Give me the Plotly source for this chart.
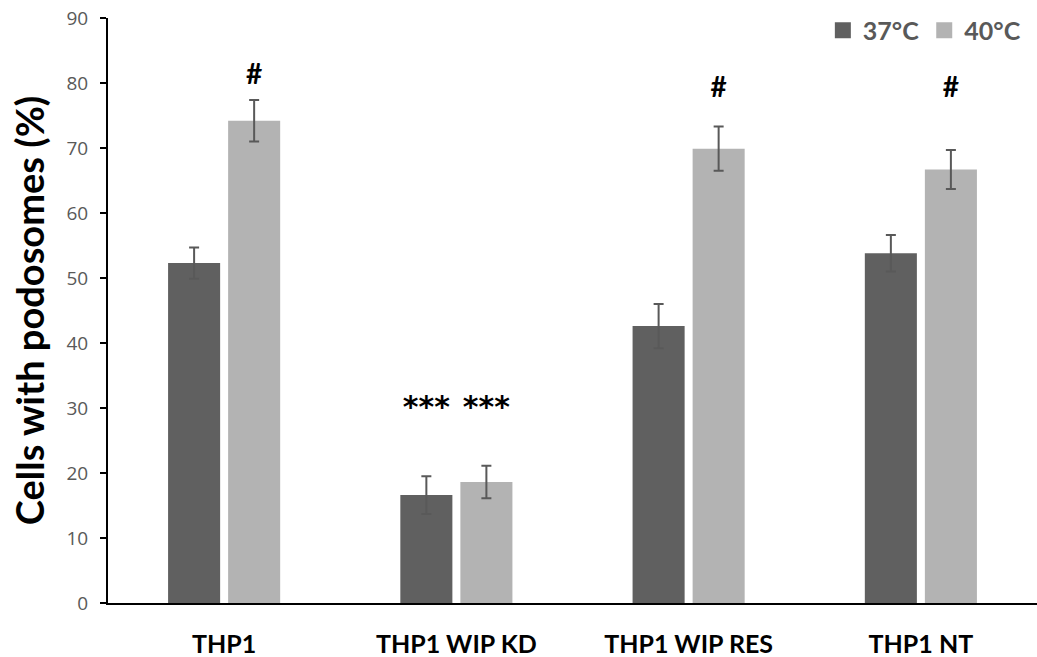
import plotly.graph_objects as go

categories = ["THP1", "THP1 WIP KD", "THP1 WIP RES", "THP1 NT"]
vals_37 = [52.3, 16.6, 42.6, 53.8]
err_37 = [2.4, 2.9, 3.4, 2.8]
vals_40 = [74.2, 18.6, 69.9, 66.7]
err_40 = [3.2, 2.5, 3.4, 3.0]
series_names = ["37°C", "40°C"]

# significance marks: (category, series index, y position, text)
marks = [
    ("THP1", 1, 81.0, "#"),
    ("THP1 WIP KD", 0, 29.8, "***"),
    ("THP1 WIP KD", 1, 29.8, "***"),
    ("THP1 WIP RES", 1, 79.0, "#"),
    ("THP1 NT", 1, 79.0, "#"),
]

bold_font = "Lato, sans-serif"
dark = "#606060"
light = "#b3b3b3"
err_col = "#595959"
colors = [dark, light]

fig = go.Figure()
for name, vals, errs, col in zip(series_names, [vals_37, vals_40], [err_37, err_40], colors):
    fig.add_trace(go.Bar(
        x=categories, y=vals, name=name, showlegend=False,
        marker=dict(color=col, line=dict(width=0)),
        error_y=dict(type="data", array=errs, color=err_col, thickness=2, width=5),
        offsetgroup=name,
    ))

for cat, idx, yv, txt in marks:
    star = txt == "***"
    fig.add_trace(go.Scatter(
        x=[cat], y=[yv], mode="text", text=[txt],
        textfont=dict(family="DejaVu Sans, sans-serif" if star else bold_font,
                      size=30 if star else 28, color="black", weight="bold"),
        showlegend=False, offsetgroup=series_names[idx], hoverinfo="skip",
    ))

# legend entries drawn as large square swatches
for name, col in zip(series_names, colors):
    fig.add_trace(go.Scatter(
        x=[None], y=[None], mode="markers", name=name,
        marker=dict(symbol="square", size=18, color=col),
        showlegend=True,
    ))

fig.update_layout(
    width=1037, height=657,
    margin=dict(l=108, r=0, t=18, b=54, autoexpand=False),
    paper_bgcolor="white", plot_bgcolor="white",
    barmode="group", bargap=0.483, bargroupgap=0.133,
    scattermode="group",
    showlegend=True,
    legend=dict(
        orientation="h", x=0.988, xanchor="right", y=1.018, yanchor="top",
        font=dict(family=bold_font, size=25, color="#595959", weight="bold"),
        itemwidth=30, traceorder="normal", itemsizing="trace",
        bgcolor="rgba(0,0,0,0)",
    ),
    font=dict(family=bold_font),
)
fig.update_xaxes(
    showline=True, linecolor="black", linewidth=2,
    ticks="", showgrid=False,
    tickfont=dict(family=bold_font, size=25, color="black", weight="bold"),
    ticklabelstandoff=18,
)
fig.update_yaxes(
    range=[0, 90], dtick=10, showline=True, linecolor="black", linewidth=2,
    ticks="outside", ticklen=6, tickwidth=2, tickcolor="black",
    showgrid=False, zeroline=False,
    tickfont=dict(family="Open Sans, sans-serif", size=19, color="#595959"),
    ticklabelstandoff=8,
    title=dict(text="Cells with podosomes (%)",
               font=dict(family=bold_font, size=38, color="black", weight="bold"),
               standoff=10),
)

fig.write_html("out.html")
